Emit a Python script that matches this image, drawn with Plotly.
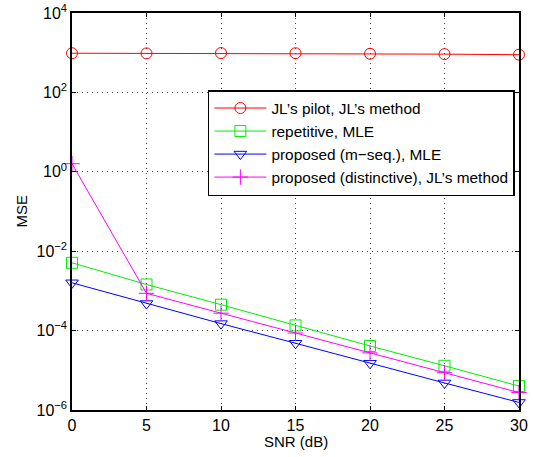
import plotly.graph_objects as go

snr = [0, 5, 10, 15, 20, 25, 30]

jl_pilot = [970, 960, 980, 970, 940, 920, 890]
repetitive = [5.1e-3, 1.45e-3, 4.5e-4, 1.35e-4, 4.1e-5, 1.3e-5, 4.0e-6]
proposed_mseq = [1.6e-3, 4.8e-4, 1.5e-4, 4.8e-5, 1.5e-5, 4.8e-6, 1.55e-6]
proposed_dist = [1.6, 8.7e-4, 2.75e-4, 8.7e-5, 2.75e-5, 8.7e-6, 2.75e-6]

names = ["JL’s pilot, JL’s method", "repetitive, MLE",
         "proposed (m−seq.), MLE", "proposed (distinctive), JL’s method"]

ytick_vals = [1e-6, 1e-4, 1e-2, 1e0, 1e2, 1e4]
ytick_text = ["10<sup>−6</sup>", "10<sup>−4</sup>", "10<sup>−2</sup>",
              "10<sup>0</sup>", "10<sup>2</sup>", "10<sup>4</sup>"]

series = [
    (jl_pilot, "#ff0000", "circle-open"),
    (repetitive, "#00ee00", "square-open"),
    (proposed_mseq, "#0000ff", "triangle-down-open"),
    (proposed_dist, "#ff00ff", "cross-thin-open"),
]

fig = go.Figure()
for (vals, col, sym), nm in zip(series, names):
    fig.add_trace(go.Scatter(
        x=snr, y=vals, name=nm, mode="lines+markers",
        line=dict(color=col, width=1),
        marker=dict(symbol=sym, size=11, color=col, line=dict(color=col, width=1)),
        cliponaxis=False,
    ))

axis_common = dict(
    showline=True, linecolor="black", linewidth=1.5, mirror="allticks",
    ticks="inside", ticklen=4, tickcolor="black",
    showgrid=True, gridcolor="#444444", griddash="1px,4px", gridwidth=1,
    zeroline=False, tickfont=dict(size=16, color="black"), automargin=False,
)

fig.update_xaxes(range=[0, 30], tickvals=[0, 5, 10, 15, 20, 25, 30], **axis_common)
fig.update_yaxes(type="log", range=[-6, 4], tickvals=ytick_vals, ticktext=ytick_text,
                 **axis_common)

# axis titles as annotations for exact placement
fig.add_annotation(text="SNR (dB)", xref="x", x=15, yref="paper", y=0, yshift=-31,
                   yanchor="middle", showarrow=False, font=dict(size=15, color="black"))
fig.add_annotation(text="MSE", xref="paper", x=0, xshift=-51, yref="paper", y=0.5,
                   textangle=-90, xanchor="center", showarrow=False,
                   font=dict(size=15, color="black"))

fig.update_layout(
    width=533, height=457,
    margin=dict(l=72, r=14, t=13, b=47),
    paper_bgcolor="white", plot_bgcolor="white",
    font=dict(family="Liberation Sans, Arial, sans-serif", color="black"),
    legend=dict(x=0.304, y=0.806, xanchor="left", yanchor="top",
                bgcolor="white", bordercolor="black", borderwidth=1.5,
                font=dict(size=15.4, color="black"), tracegroupgap=0,
                itemwidth=52),
    showlegend=True,
)

# drop the page's default body margin so the figure sits at the window corner
fig.write_html("out.html", config={"displayModeBar": False},
               post_script="document.body.style.margin='0px';")
